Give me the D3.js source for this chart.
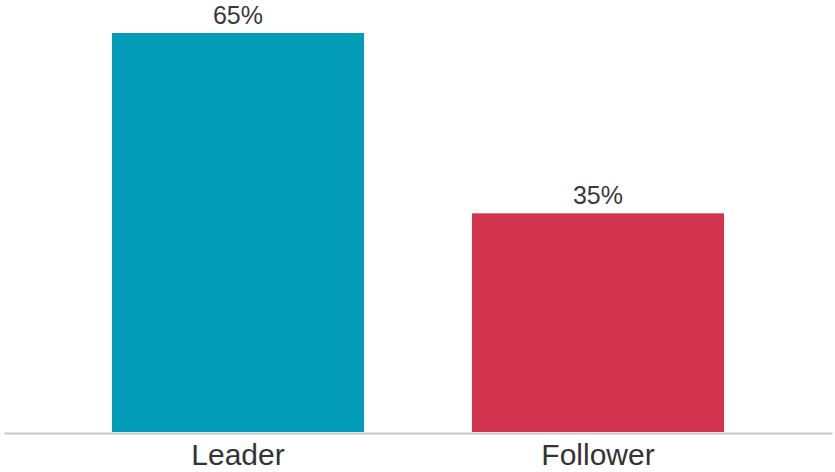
<!DOCTYPE html>
<html>
<head>
<meta charset="utf-8">
<script src="https://cdn.jsdelivr.net/npm/d3@7"></script>
<style>
  body { margin: 0; background: #fff; }
</style>
</head>
<body>
<div class="canvas"></div>
<script>
var width = 835,
	height = 472;

var categories = ["Leader", "Follower"];
var values = [64.6, 35.4];
var colors = ["#029bb8", "#d3334e"];

var svg = d3.select(".canvas")
	.append("svg")
	.attr("width", width)
	.attr("height", height);

var baseY = 432;

var x = d3.scaleBand()
	.domain(categories)
	.range([4, 832])
	.paddingInner(0.3)
	.paddingOuter(0.3);

var y = d3.scaleLinear()
	.domain([0, d3.max(values)])
	.range([baseY, 33]);

var data = categories.map(function(c, i) {
	return { cat: c, value: values[i], color: colors[i] };
});

/* ---------- bars ---------- */
svg.selectAll(".bar")
	.data(data)
	.enter().append("rect")
	.attr("class", "bar")
	.attr("x", function(d) { return x(d.cat); })
	.attr("y", function(d) { return y(d.value); })
	.attr("width", x.bandwidth())
	.attr("height", function(d) { return baseY - y(d.value); })
	.attr("fill", function(d) { return d.color; });

// value labels
svg.selectAll(".val")
	.data(data)
	.enter().append("text")
	.attr("class", "val")
	.attr("x", function(d) { return x(d.cat) + x.bandwidth() / 2; })
	.attr("y", function(d) { return y(d.value) - 9; })
	.attr("text-anchor", "middle")
	.attr("font-family", "Liberation Sans, Arial, sans-serif")
	.attr("font-size", 25)
	.attr("fill", "#3a3a3a")
	.text(function(d) { return Math.round(d.value) + "%"; });

/* ---------- axis ---------- */
var xAxis = svg.append("g")
	.attr("transform", "translate(0," + (baseY + 1) + ")")
	.call(d3.axisBottom(x).tickSize(0).tickSizeOuter(0).tickPadding(11));

xAxis.select(".domain")
	.attr("stroke", "#c8c8c8")
	.attr("stroke-width", 2);

xAxis.selectAll("text")
	.attr("font-family", "Liberation Sans, Arial, sans-serif")
	.attr("font-size", 30)
	.attr("fill", "#333");
</script>
</body>
</html>
